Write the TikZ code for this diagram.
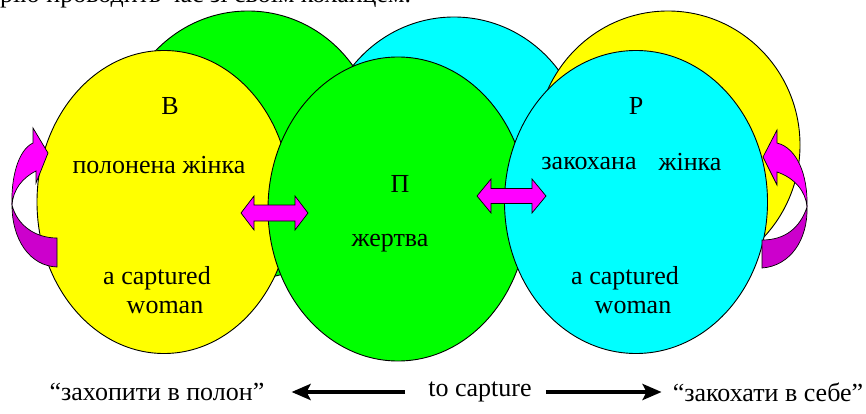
\documentclass[tikz,border=0pt]{standalone}
\usepackage{fontspec}
\setmainfont{Liberation Serif}
\usetikzlibrary{shapes.geometric,arrows.meta}
\definecolor{cyel}{RGB}{255,255,0}
\definecolor{cgreen}{RGB}{0,255,0}
\definecolor{ccyan}{RGB}{0,255,255}
\definecolor{cmag}{RGB}{255,0,255}
\definecolor{cdark}{RGB}{204,0,204}
\begin{document}
\begin{tikzpicture}[x=1pt,y=-1pt,
  blob/.style={ellipse, draw=black, line width=0.9pt, inner sep=0pt},
  lbl/.style={font=\fontsize{26}{30}\selectfont, inner sep=0pt},
  blockarrow/.style={draw=black, line width=0.7pt, line join=miter},
  capture/.style={line width=4pt, -{Stealth[length=19pt,width=16pt,inset=4pt]}}]
\useasboundingbox (0,0) rectangle (866,414);
\begin{scope}
\clip (0,0) rectangle (866,414);
\node[lbl, anchor=base west] (toptext) at (0,3) {рію проводить час зі своїм коханцем.};
\end{scope}
% back row
\node[blob, fill=cgreen, minimum width=260pt, minimum height=268pt] (gb) at (248,145) {};
\node[blob, fill=ccyan, minimum width=262pt, minimum height=268pt] (cb) at (454,151) {};
\node[blob, fill=cyel, minimum width=264pt, minimum height=268pt] (yb) at (668,145) {};
% front row
\node[blob, fill=cyel, minimum width=254pt, minimum height=303pt] (yf) at (164,202) {};
\node[blob, fill=cgreen, minimum width=260pt, minimum height=304pt] (gf) at (398,209) {};
\node[blob, fill=ccyan, minimum width=263pt, minimum height=303pt] (cf) at (636,202) {};
% labels
\node[lbl] (B) at (170,106) {В};
\node[lbl] (bw) at (159,165) {полонена жінка};
\node[lbl] (ba) at (157,278) {a captured};
\node[lbl] (bb) at (165,307) {woman};
\node[lbl] (P) at (400,184) {П};
\node[lbl] (pw) at (390,243) {жертва};
\node[lbl] (R) at (636,106) {Р};
\node[lbl] (rw1) at (589,164) {закохана};
\node[lbl] (rw2) at (690,162) {жінка};
\node[lbl] (ra) at (625,278) {a captured};
\node[lbl] (rb) at (633,307) {woman};
% double block arrows
\path[blockarrow, fill=cmag] (241,213) -- (254,196) -- (254,205) -- (295,205) -- (295,196) -- (308,213)
  -- (295,230) -- (295,221) -- (254,221) -- (254,230) -- cycle;
\path[blockarrow, fill=cmag] (477,196) -- (491,179) -- (491,188.5) -- (532,188.5) -- (532,179) -- (546,196)
  -- (532,213) -- (532,203.5) -- (491,203.5) -- (491,213) -- cycle;
% left curved arrow
\path[blockarrow, fill=cdark] (12,205) .. controls (12,240) and (30,266) .. (57,267) -- (57,238)
  .. controls (35,238) and (17,225) .. (12,205) -- cycle;
\path[blockarrow, fill=cmag] (33,128) -- (48,153) -- (36,183) -- (36,171)
  .. controls (22,178) and (13,190) .. (12,205) .. controls (11,178) and (18,150) .. (33,143) -- cycle;
% right curved arrow
\path[blockarrow, fill=cdark] (807,207) .. controls (808,240) and (790,266) .. (762,268) -- (762,240)
  .. controls (785,240) and (800,228) .. (807,207) -- cycle;
\path[blockarrow, fill=cmag] (777,130) -- (763,157) -- (777,185) -- (777,172)
  .. controls (795,178) and (806,192) .. (807,207) .. controls (808,175) and (797,148) .. (777,143) -- cycle;
% bottom line
\node[lbl] (L) at (157,392) {“захопити в полон”};
\node[lbl] (C) at (480,392) {to capture};
\node[lbl] (Rt) at (768,392) {“закохати в себе”};
\draw[capture] ([xshift=-23pt]C.west) -- ([xshift=27pt]L.east);
\draw[capture] ([xshift=14pt]C.east) -- ([xshift=-11pt]Rt.west);
\end{tikzpicture}
\end{document}
